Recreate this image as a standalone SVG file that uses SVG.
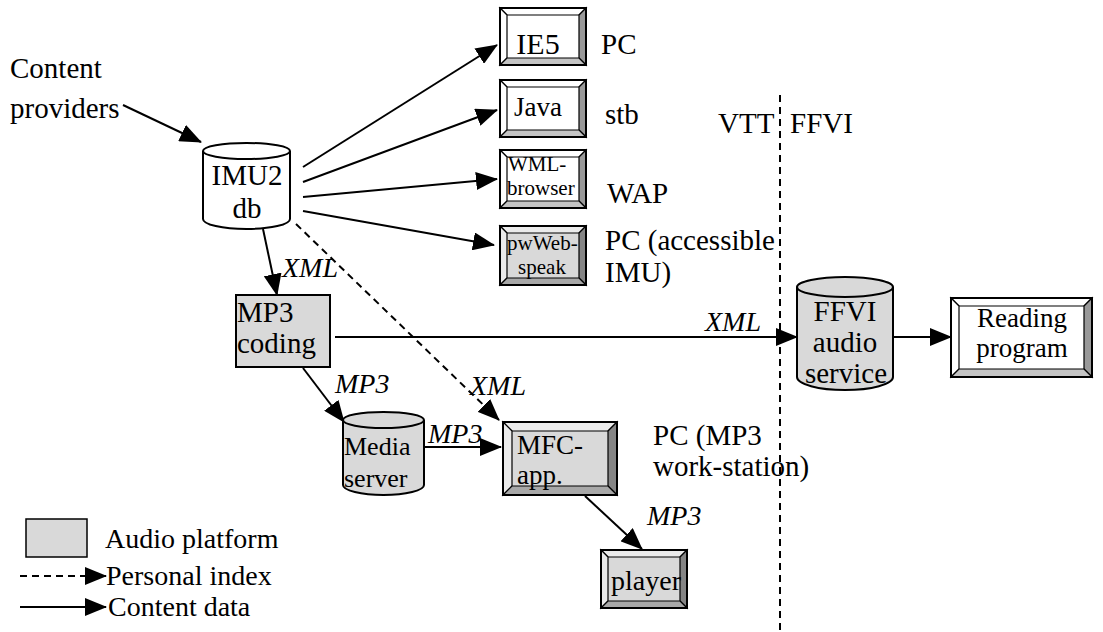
<svg xmlns="http://www.w3.org/2000/svg" width="1103" height="632" viewBox="0 0 1103 632" font-family="'Liberation Serif', 'Times New Roman', 'DejaVu Serif', serif">
  <style>
    text { font-family: "Liberation Serif", "Times New Roman", "DejaVu Serif", serif; font-size: 29px; fill: #000; }
    .it { font-style: italic; font-size: 28px; }
    .mid { text-anchor: middle; }
    .sm { font-size: 21px; }
    .edge { stroke: #000; stroke-width: 2; fill: none; }
    .dash { stroke-dasharray: 7 5; }
    .frame { stroke: #000; stroke-width: 2; }
    .thin { stroke: #000; stroke-width: 1.2; }
    .face-w { fill: #fff; }
    .face-g { fill: #d9d9d9; }
    .hi-w { fill: #fff; }
    .lo-w { fill: #999; }
    .lo2-w { fill: #c4c4c4; }
    .hi-g { fill: #ebebeb; }
    .lo-g { fill: #858585; }
    .lo2-g { fill: #a8a8a8; }
  </style>
  <defs>
    <marker id="arrow" markerUnits="userSpaceOnUse" markerWidth="22" markerHeight="18" refX="21" refY="9" orient="auto">
      <path d="M0,0 L22,9 L0,18 Z" fill="#000"/>
    </marker>
  </defs>

  <rect width="1103" height="632" fill="#fff"/>

  <!-- source label -->
  <g id="content-providers">
    <text x="10" y="78">Content</text>
    <text x="10" y="118">providers</text>
  </g>

  <!-- organisation boundary -->
  <g id="org-boundary">
    <text x="718" y="133">VTT</text>
    <text x="790" y="133">FFVI</text>
    <line x1="780" y1="95" x2="780" y2="632" class="edge dash" stroke-width="1.5"/>
  </g>

  <!-- connectors -->
  <g id="connectors" class="edge">
    <line x1="123" y1="105" x2="201" y2="142" marker-end="url(#arrow)"/>
    <line x1="303" y1="167" x2="497" y2="45" marker-end="url(#arrow)"/>
    <line x1="303" y1="182" x2="497" y2="110" marker-end="url(#arrow)"/>
    <line x1="303" y1="197" x2="497" y2="179" marker-end="url(#arrow)"/>
    <line x1="303" y1="211" x2="494" y2="245" marker-end="url(#arrow)"/>
    <line x1="263" y1="229" x2="277" y2="295" marker-end="url(#arrow)"/>
    <line x1="335" y1="337" x2="797" y2="337" marker-end="url(#arrow)"/>
    <line x1="893" y1="337" x2="951" y2="337" marker-end="url(#arrow)"/>
    <line x1="296" y1="224" x2="499" y2="420" class="dash" marker-end="url(#arrow)"/>
    <line x1="303" y1="368" x2="344" y2="422" marker-end="url(#arrow)"/>
    <line x1="424" y1="447" x2="501" y2="447" marker-end="url(#arrow)"/>
    <line x1="585" y1="496" x2="642" y2="549" marker-end="url(#arrow)"/>
  </g>

  <!-- connector labels -->
  <g id="connector-labels">
    <text class="it" x="282" y="277">XML</text>
    <text class="it" x="705" y="331">XML</text>
    <text class="it" x="335" y="393">MP3</text>
    <text class="it" x="470" y="395">XML</text>
    <text class="it" x="428" y="443">MP3</text>
    <text class="it" x="647" y="525">MP3</text>
  </g>

  <!-- IMU2 database -->
  <g id="imu2-db">
    <path d="M203,151 A43.5,8 0 0 1 290,151 V219 A43.5,10 0 0 1 203,219 Z" class="face-w frame"/>
    <path d="M203,151 A43.5,8 0 0 0 290,151" class="edge"/>
    <text class="mid" x="247" y="185">IMU2</text>
    <text class="mid" x="247" y="218">db</text>
  </g>

  <!-- IE5 -->
  <g id="ie5">
    <rect x="500" y="8" width="86" height="57" class="face-w"/>
    <polygon points="500,8 586,8 579,15 507,15" class="hi-w thin"/>
    <polygon points="500,8 507,15 507,58 500,65" class="hi-w thin"/>
    <polygon points="586,8 586,65 579,58 579,15" class="lo-w thin"/>
    <polygon points="500,65 586,65 579,58 507,58" class="lo2-w thin"/>
    <rect x="500" y="8" width="86" height="57" fill="none" class="frame"/>
    <text class="mid" x="538" y="54" style="font-size:30px">IE5</text>
  </g>
  <text x="601" y="54">PC</text>

  <!-- Java -->
  <g id="java">
    <rect x="500" y="80" width="86" height="57" class="face-w"/>
    <polygon points="500,80 586,80 579,87 507,87" class="hi-w thin"/>
    <polygon points="500,80 507,87 507,130 500,137" class="hi-w thin"/>
    <polygon points="586,80 586,137 579,130 579,87" class="lo-w thin"/>
    <polygon points="500,137 586,137 579,130 507,130" class="lo2-w thin"/>
    <rect x="500" y="80" width="86" height="57" fill="none" class="frame"/>
    <text class="mid" x="538" y="116" style="font-size:27px">Java</text>
  </g>
  <text x="605" y="124">stb</text>

  <!-- WML browser -->
  <g id="wml-browser">
    <rect x="500" y="150" width="86" height="58" class="face-w"/>
    <polygon points="500,150 586,150 579,157 507,157" class="hi-w thin"/>
    <polygon points="500,150 507,157 507,201 500,208" class="hi-w thin"/>
    <polygon points="586,150 586,208 579,201 579,157" class="lo-w thin"/>
    <polygon points="500,208 586,208 579,201 507,201" class="lo2-w thin"/>
    <rect x="500" y="150" width="86" height="58" fill="none" class="frame"/>
    <text class="sm" x="508" y="171">WML-</text>
    <text class="sm" x="507" y="195">browser</text>
  </g>
  <text x="607" y="203">WAP</text>

  <!-- pwWebSpeak -->
  <g id="pwwebspeak">
    <rect x="500" y="226" width="86" height="59" class="face-g"/>
    <polygon points="500,226 586,226 579,233 507,233" class="hi-g thin"/>
    <polygon points="500,226 507,233 507,278 500,285" class="hi-g thin"/>
    <polygon points="586,226 586,285 579,278 579,233" class="lo-g thin"/>
    <polygon points="500,285 586,285 579,278 507,278" class="lo2-g thin"/>
    <rect x="500" y="226" width="86" height="59" fill="none" class="frame"/>
    <text class="sm" x="507" y="250">pwWeb-</text>
    <text class="sm mid" x="542" y="274">speak</text>
  </g>
  <text x="605" y="250">PC (accessible</text>
  <text x="605" y="282">IMU)</text>

  <!-- MP3 coding -->
  <g id="mp3-coding">
    <rect x="236" y="295" width="94" height="72" class="face-g frame"/>
    <text x="237" y="322">MP3</text>
    <text x="237" y="353">coding</text>
  </g>

  <!-- FFVI audio service -->
  <g id="ffvi-audio-service">
    <path d="M797,287 A48,10 0 0 1 893,287 V377 A48,13 0 0 1 797,377 Z" class="face-g frame"/>
    <path d="M797,287 A48,10 0 0 0 893,287" class="edge"/>
    <text class="mid" x="845" y="321">FFVI</text>
    <text class="mid" x="845" y="352">audio</text>
    <text class="mid" x="846" y="383">service</text>
  </g>

  <!-- Reading program -->
  <g id="reading-program">
    <rect x="951" y="298" width="141" height="79" class="face-w"/>
    <polygon points="951,298 1092,298 1084,306 959,306" class="hi-w thin"/>
    <polygon points="951,298 959,306 959,369 951,377" class="hi-w thin"/>
    <polygon points="1092,298 1092,377 1084,369 1084,306" class="lo-w thin"/>
    <polygon points="951,377 1092,377 1084,369 959,369" class="lo2-w thin"/>
    <rect x="951" y="298" width="141" height="79" fill="none" class="frame"/>
    <text class="mid" x="1022" y="327" style="font-size:27px">Reading</text>
    <text class="mid" x="1022" y="357" style="font-size:27px">program</text>
  </g>

  <!-- Media server -->
  <g id="media-server">
    <path d="M343,420 A40.5,8 0 0 1 424,420 V485 A40.5,10 0 0 1 343,485 Z" class="face-g frame"/>
    <path d="M343,420 A40.5,8 0 0 0 424,420" class="edge"/>
    <text x="344" y="455" style="font-size:26px">Media</text>
    <text x="344" y="487" style="font-size:26px">server</text>
  </g>

  <!-- MFC application -->
  <g id="mfc-app">
    <rect x="503" y="422" width="114" height="73" class="face-g"/>
    <polygon points="503,422 617,422 608,431 512,431" class="hi-g thin"/>
    <polygon points="503,422 512,431 512,486 503,495" class="hi-g thin"/>
    <polygon points="617,422 617,495 608,486 608,431" class="lo-g thin"/>
    <polygon points="503,495 617,495 608,486 512,486" class="lo2-g thin"/>
    <rect x="503" y="422" width="114" height="73" fill="none" class="frame"/>
    <text x="517" y="454" style="font-size:27px">MFC-</text>
    <text x="517" y="484" style="font-size:27px">app.</text>
  </g>
  <text x="653" y="445">PC (MP3</text>
  <text x="653" y="476">work-station)</text>

  <!-- player -->
  <g id="player">
    <rect x="601" y="550" width="86" height="58" class="face-g"/>
    <polygon points="601,550 687,550 680,557 608,557" class="hi-g thin"/>
    <polygon points="601,550 608,557 608,601 601,608" class="hi-g thin"/>
    <polygon points="687,550 687,608 680,601 680,557" class="lo-g thin"/>
    <polygon points="601,608 687,608 680,601 608,601" class="lo2-g thin"/>
    <rect x="601" y="550" width="86" height="58" fill="none" class="frame"/>
    <text x="611" y="590" style="font-size:28px">player</text>
  </g>

  <!-- legend -->
  <g id="legend">
    <rect x="26" y="519" width="61" height="38" class="face-g" stroke="#000" stroke-width="1.5"/>
    <text x="105" y="548" style="font-size:28px">Audio platform</text>
    <line x1="20" y1="576" x2="106" y2="576" class="edge dash" stroke-width="1.5" marker-end="url(#arrow)"/>
    <text x="106" y="585" style="font-size:28px">Personal index</text>
    <line x1="20" y1="607" x2="106" y2="607" class="edge" marker-end="url(#arrow)"/>
    <text x="108" y="616" style="font-size:28px">Content data</text>
  </g>
</svg>
